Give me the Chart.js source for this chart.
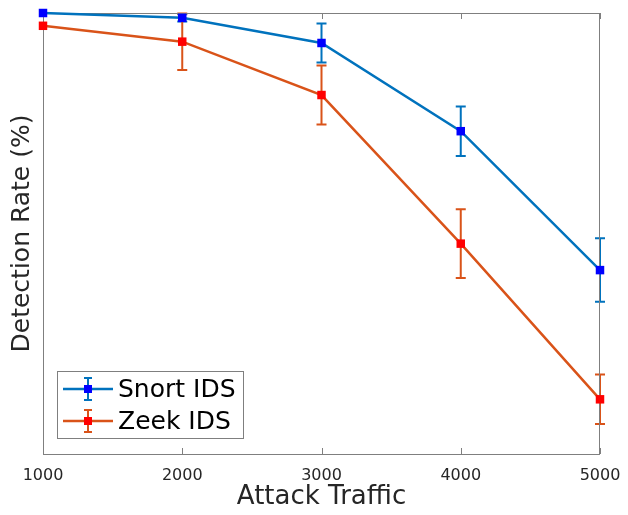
<!DOCTYPE html>
<html>
<head>
<meta charset="utf-8">
<script src="https://cdn.jsdelivr.net/npm/chart.js@4/dist/chart.umd.min.js"></script>
<style>
  html, body { margin: 0; padding: 0; background: #fff; }
  #wrap { width: 628px; height: 515px; }
</style>
</head>
<body>
<div id="wrap"><canvas id="chart" width="628" height="515"></canvas></div>
<script>
// data (y axis has no labels, 0-100 assumed)
const traffic = [1000, 2000, 3000, 4000, 5000];
const snortRate = [100, 98.9, 93.2, 73.2, 41.7];
const snortErr = [0, 0.8, 4.4, 5.6, 7.2];
const zeekRate = [97.1, 93.5, 81.4, 47.7, 12.4];
const zeekErr = [0, 6.4, 6.7, 7.8, 5.6];

const axisGray = '#7f7f7f';
const font = "'DejaVu Sans', sans-serif";

const toPoints = (ys) => traffic.map((x, i) => ({ x: x, y: ys[i] }));

// error bars, drawn under the markers
const errorBars = {
    id: 'errorBars',
    beforeDatasetsDraw(chart) {
        const ctx = chart.ctx;
        const xs = chart.scales.x, ys = chart.scales.y;
        chart.data.datasets.forEach(ds => {
            ctx.save();
            ctx.strokeStyle = ds.borderColor;
            ctx.lineWidth = 2;
            ds.data.forEach((p, i) => {
                const e = ds.errors[i];
                if (!e) return;
                const px = xs.getPixelForValue(p.x);
                const top = ys.getPixelForValue(p.y + e);
                const bot = ys.getPixelForValue(p.y - e);
                ctx.beginPath();
                ctx.moveTo(px, top); ctx.lineTo(px, bot);
                ctx.moveTo(px - 5, top); ctx.lineTo(px + 5, top);
                ctx.moveTo(px - 5, bot); ctx.lineTo(px + 5, bot);
                ctx.stroke();
            });
            ctx.restore();
        });
    }
};

// box, inward ticks and legend like the matlab figure
const frame = {
    id: 'frame',
    beforeDatasetsDraw(chart) {
        const ctx = chart.ctx;
        const a = chart.chartArea;
        const xs = chart.scales.x;
        ctx.save();
        ctx.strokeStyle = axisGray;
        ctx.lineWidth = 1;
        ctx.strokeRect(a.left + 0.5, a.top + 0.5, a.right - a.left - 1, a.bottom - a.top);
        ctx.beginPath();
        traffic.forEach(t => {
            const px = Math.round(xs.getPixelForValue(t)) + 0.5;
            ctx.moveTo(px, a.bottom); ctx.lineTo(px, a.bottom - 6);
            ctx.moveTo(px, a.top); ctx.lineTo(px, a.top + 6);
        });
        ctx.stroke();
        ctx.restore();
    },
    afterDraw(chart) {
        const ctx = chart.ctx;
        const lx = 57, ly = 371, lw = 186, lh = 67;
        ctx.save();
        ctx.fillStyle = '#fff';
        ctx.fillRect(lx, ly, lw, lh);
        ctx.strokeStyle = axisGray;
        ctx.lineWidth = 1;
        ctx.strokeRect(lx + 0.5, ly + 0.5, lw, lh);
        chart.data.datasets.forEach((ds, i) => {
            const cy = 389 + i * 32;
            ctx.strokeStyle = ds.borderColor;
            ctx.lineWidth = 2.5;
            ctx.beginPath();
            ctx.moveTo(63, cy); ctx.lineTo(113, cy);
            ctx.stroke();
            ctx.lineWidth = 2;
            ctx.beginPath();
            ctx.moveTo(88, cy - 11); ctx.lineTo(88, cy + 11);
            ctx.moveTo(84, cy - 11); ctx.lineTo(92, cy - 11);
            ctx.moveTo(84, cy + 11); ctx.lineTo(92, cy + 11);
            ctx.stroke();
            ctx.fillStyle = ds.pointBackgroundColor;
            ctx.fillRect(84, cy - 4, 8, 8);
            ctx.fillStyle = '#000';
            ctx.font = '25px ' + font;
            ctx.textBaseline = 'middle';
            ctx.fillText(ds.label, 118, cy + 1);
        });
        ctx.restore();
    }
};

new Chart(document.getElementById('chart'), {
    type: 'line',
    data: {
        datasets: [
            {
                label: 'Snort IDS',
                data: toPoints(snortRate),
                errors: snortErr,
                borderColor: '#0072BD',
                borderWidth: 2.5,
                pointStyle: 'rect',
                pointRadius: 6,
                pointBackgroundColor: '#0000FF',
                pointBorderColor: '#0000FF',
                pointBorderWidth: 0,
                tension: 0
            },
            {
                label: 'Zeek IDS',
                data: toPoints(zeekRate),
                errors: zeekErr,
                borderColor: '#D95319',
                borderWidth: 2.5,
                pointStyle: 'rect',
                pointRadius: 6,
                pointBackgroundColor: '#FF0000',
                pointBorderColor: '#FF0000',
                pointBorderWidth: 0,
                tension: 0
            }
        ]
    },
    options: {
        responsive: false,
        animation: false,
        clip: false,
        layout: { padding: { top: 13, right: 28, left: 0, bottom: 0 } },
        plugins: {
            legend: { display: false },
            tooltip: { enabled: false }
        },
        scales: {
            x: {
                type: 'linear',
                min: 1000,
                max: 5000,
                grid: { display: false },
                border: { display: false },
                ticks: {
                    stepSize: 1000,
                    color: '#262626',
                    padding: 4,
                    maxRotation: 0,
                    font: { family: font, size: 16 },
                    callback: v => String(v)
                },
                title: {
                    display: true,
                    text: 'Attack Traffic',
                    color: '#262626',
                    padding: { top: 0, bottom: 2 },
                    font: { family: font, size: 26 }
                },
                afterFit: s => { s.height = 61; }
            },
            y: {
                min: 0,
                max: 100,
                grid: { display: false },
                border: { display: false },
                ticks: { display: false },
                title: {
                    display: true,
                    text: 'Detection Rate (%)',
                    color: '#262626',
                    padding: { top: 7, bottom: 0 },
                    font: { family: font, size: 25 }
                },
                afterFit: s => { s.width = 43; }
            }
        }
    },
    plugins: [errorBars, frame]
});
</script>
</body>
</html>
